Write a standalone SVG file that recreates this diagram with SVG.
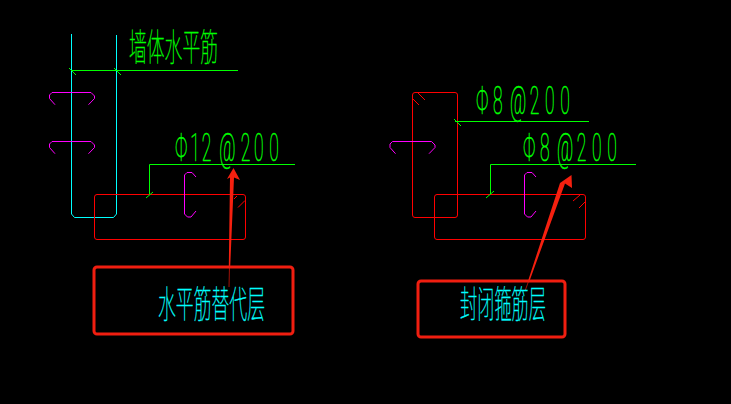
<svg xmlns="http://www.w3.org/2000/svg" width="731" height="404" viewBox="0 0 731 404">
<style>
.r{fill:none;stroke:#f00;stroke-width:1}
.c{fill:none;stroke:#0ff;stroke-width:1}
.g{fill:none;stroke:#0f0;stroke-width:1}
.m{fill:none;stroke:#f0f;stroke-width:1}
.box{fill:none;stroke:#f01e10;stroke-width:3}
.arrow{fill:#f5200f}
.tail{fill:none;stroke:#a01208;stroke-width:1}
.t{font-family:"Noto Sans CJK SC","Noto Sans",sans-serif;font-weight:100;font-size:37px;stroke-width:.45}
.d{font-family:"Roboto","Liberation Sans",sans-serif;font-weight:100;font-size:38px;fill:#0f0;stroke:#0f0;stroke-width:.6}
.tg{fill:#0f0;stroke:#0f0}.tc{fill:#0ff;stroke:#0ff}
</style>
<defs>
<path id="hook" class="m" d="M6 12.700L0.500 6.500V3L3 0.500H42L45.500 4V6.500L39.500 12.700"/>
<path id="cb" class="m" d="M12 5L8 0.500H3L0.500 3V42L3.500 45H7L12 39"/>
</defs>
<rect width="731" height="404" fill="#000"/>

<g id="left-wall">
<path class="c" d="M71.500 34V214L74.500 217.500H113.500L116.500 214V35"/>
<use href="#hook" x="49" y="92"/>
<use href="#hook" x="49" y="141"/>
</g>
<g id="left-slab">
<rect class="r" x="94.500" y="194.500" width="151" height="45" rx="2.500"/>
<path class="r" d="M238 207.500L245 200.500M234 199L237 196"/>
<use href="#cb" x="184" y="172"/>
</g>
<g id="right-wall">
<rect class="r" x="412.500" y="92.500" width="45" height="125" rx="2.500"/>
<path class="r" d="M418 93L425 100M413 99L419 105"/>
<use href="#hook" x="389.500" y="141"/>
</g>
<g id="right-slab">
<rect class="r" x="434.500" y="194.500" width="151" height="45" rx="2.500"/>
<path class="r" d="M573 201L580 195M579 208L586 201"/>
<use href="#cb" x="524" y="172"/>
</g>

<g id="connectors">
<path class="g" d="M71 70.500H238"/>
<path class="g" d="M69 68L76 75M114 68L121 75"/>
<path class="g" d="M149.500 194V164.500H295"/>
<path class="g" d="M146 198L153 192"/>
<path class="g" d="M455 121.500H589"/>
<path class="g" d="M454 119L461 126"/>
<path class="g" d="M490.500 194V164.500H636"/>
<path class="g" d="M486 198L494 191"/>
<path class="tail" d="M229.500 265L229 287"/>
<path class="tail" d="M529 280L525 291"/>
<path class="arrow" d="M233.500 168L240 180L234 177.500L230.200 267H228.800L230 177.500L227 179Z"/>
<path class="arrow" d="M571.500 175L572 188L565 183.500L529.500 281H528L560 183Z"/>
</g>

<g id="label-wall-h">
<text class="t tg" transform="translate(129 60.500) scale(.5 1)" textLength="178" lengthAdjust="spacingAndGlyphs">墙体水平筋</text>
</g>
<g id="label-phi12">
<text class="d" transform="translate(175 161) scale(.46 1)" x="0 33 58 90 96 143 172 205">Φ12 @200</text>
</g>
<g id="label-phi8a">
<text class="d" transform="translate(476 113.500) scale(.46 1)" x="0 37 70 74 117 150 183">Φ8 @200</text>
</g>
<g id="label-phi8b">
<text class="d" transform="translate(523 160.500) scale(.46 1)" x="0 37 70 74 117 150 183">Φ8 @200</text>
</g>

<g id="box-left">
<rect class="box" x="94" y="267" width="199" height="67" rx="3"/>
<text class="t tc" transform="translate(158 318) scale(.5 1)" textLength="214" lengthAdjust="spacingAndGlyphs">水平筋替代层</text>
</g>
<g id="box-right">
<rect class="box" x="418" y="281" width="147" height="56" rx="3"/>
<text class="t tc" transform="translate(460 318) scale(.5 1)" textLength="172" lengthAdjust="spacingAndGlyphs">封闭箍筋层</text>
</g>
</svg>
